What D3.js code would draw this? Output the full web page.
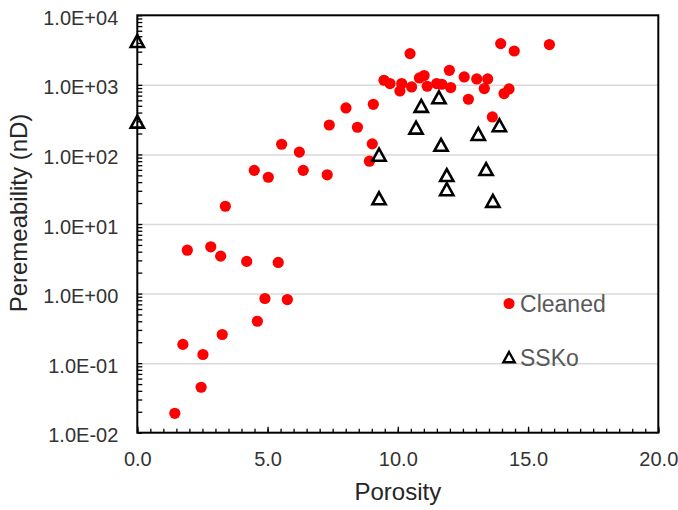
<!DOCTYPE html>
<html>
<head>
<meta charset="utf-8">
<script src="https://cdn.jsdelivr.net/npm/d3@7"></script>
<style>
  html, body { margin: 0; padding: 0; background: #fff; }
  svg { display: block; font-family: "Liberation Sans", Arial, sans-serif; }
</style>
</head>
<body>
<svg id="chart" width="678" height="510"></svg>
<script>
// Cleaned samples: porosity (%) and permeability (nD)
const cleanedPorosity = [1.44, 1.75, 1.92, 2.45, 2.52, 2.82, 3.20, 3.26, 3.38, 4.20,
  4.49, 4.61, 4.90, 5.03, 5.41, 5.54, 5.76, 6.22, 6.37, 7.29,
  7.37, 8.01, 8.45, 8.91, 9.02, 9.06, 9.47, 9.70, 10.08, 10.15,
  10.47, 10.53, 10.83, 11.01, 11.13, 11.49, 11.69, 11.98, 12.03, 12.55,
  12.71, 13.03, 13.32, 13.45, 13.63, 13.95, 14.08, 14.27, 14.47, 15.82];
const cleanedPerm = [0.019, 0.186, 4.2, 0.045, 0.133, 4.7, 3.45, 0.258, 18, 2.9,
  59, 0.40, 0.85, 47, 2.8, 140, 0.82, 108, 59, 51,
  265, 466, 246, 80, 142, 526, 1165, 1044, 818, 1044,
  2815, 933, 1258, 1360, 955, 1044, 1020, 1620, 915, 1300,
  621, 1216, 885, 1216, 346, 3920, 750, 873, 3070, 3795];

// SSKo samples
const sskoPorosity = [0, 0, 9.28, 9.28, 10.70, 10.90, 11.58, 11.66, 11.88, 11.88, 13.09, 13.39, 13.65, 13.90];
const sskoPerm = [4230, 293, 98, 23.2, 240, 493, 656, 136, 50, 31.3, 195, 61, 21.3, 260];

// Series labels and where they sit in data coordinates
const seriesNames = ["Cleaned", "SSKo"];
const labelPorosity = [14.27, 14.27];
const labelPerm = [0.72, 0.121];

// Axis ticks
const xTickValues = [0, 5, 10, 15, 20];
const yDecades = [1e-2, 1e-1, 1e0, 1e1, 1e2, 1e3, 1e4];
const xTitle = "Porosity";
const yTitle = "Peremeability (nD)";

const svg = d3.select("#chart");
const plotLeft = 137.3, plotRight = 658.3, plotTop = 15.3, plotBottom = 432.7;

const x = d3.scaleLinear().domain([0, 20]).range([plotLeft, plotRight]);
const y = d3.scaleLog().domain([1e-2, 1e4]).range([plotBottom, plotTop]);

// horizontal gridlines at each decade inside the plot
svg.append("g")
  .attr("transform", `translate(${plotLeft},0)`)
  .call(d3.axisLeft(y).tickValues(yDecades.slice(1, -1)).tickSize(-(plotRight - plotLeft)).tickFormat(""))
  .call(g => g.select(".domain").remove())
  .call(g => g.selectAll("line").attr("stroke", "#d9d9d9").attr("stroke-width", 1.5));

// minor ticks on the log axis (pointing into the plot)
const minorY = [];
for (let e = -2; e < 4; e++) for (let m = 1; m <= 9; m++) minorY.push(m * Math.pow(10, e));
minorY.push(1e4);
svg.append("g")
  .attr("transform", `translate(${plotLeft},0)`)
  .call(d3.axisRight(y).tickValues(minorY).tickSize(5).tickFormat(""))
  .call(g => g.select(".domain").remove())
  .call(g => g.selectAll("line").attr("stroke", "#000").attr("stroke-width", 1.3));

// y tick labels in scientific form, e.g. 1.0E+04
const sci = v => {
  const e = Math.round(Math.log10(v));
  const s = e < 0 ? "-" : "+";
  return "1.0E" + s + String(Math.abs(e)).padStart(2, "0");
};
svg.append("g")
  .attr("transform", `translate(${plotLeft},0)`)
  .call(d3.axisLeft(y).tickValues(yDecades).tickSize(0).tickPadding(19).tickFormat(sci))
  .call(g => g.select(".domain").remove())
  .call(g => g.selectAll("text")
    .attr("dy", "0.45em")
    .attr("fill", "#333")
    .style("font-size", "20px"));

// x ticks: minor every 0.5, major every 5 (pointing up into the plot)
const minorX = d3.range(0, 20.001, 0.5);
svg.append("g")
  .attr("transform", `translate(0,${plotBottom})`)
  .call(d3.axisTop(x).tickValues(minorX).tickSize(4).tickFormat(""))
  .call(g => g.select(".domain").remove())
  .call(g => g.selectAll("line").attr("stroke", "#000").attr("stroke-width", 1.3));
svg.append("g")
  .attr("transform", `translate(0,${plotBottom})`)
  .call(d3.axisTop(x).tickValues(xTickValues).tickSize(6).tickFormat(""))
  .call(g => g.select(".domain").remove())
  .call(g => g.selectAll("line").attr("stroke", "#000").attr("stroke-width", 1.3));
svg.append("g")
  .attr("transform", `translate(0,${plotBottom})`)
  .call(d3.axisBottom(x).tickValues(xTickValues).tickSize(0).tickPadding(19).tickFormat(d3.format(".1f")))
  .call(g => g.select(".domain").remove())
  .call(g => g.selectAll("text").attr("fill", "#333").style("font-size", "20px"));

// plot frame
svg.append("rect")
  .attr("x", plotLeft).attr("y", plotTop)
  .attr("width", plotRight - plotLeft).attr("height", plotBottom - plotTop)
  .attr("fill", "none").attr("stroke", "#000").attr("stroke-width", 2);

// axis titles
svg.append("text")
  .attr("x", (plotLeft + plotRight) / 2).attr("y", 499.5)
  .attr("text-anchor", "middle")
  .attr("fill", "#262626").style("font-size", "24px")
  .text(xTitle);
svg.append("text")
  .attr("transform", "translate(27,213) rotate(-90)")
  .attr("text-anchor", "middle")
  .attr("fill", "#262626").style("font-size", "24px")
  .text(yTitle);

// triangle marker shape
const tri = s => `M0,${-s}L${s * 1.05},${s * 0.9}L${-s * 1.05},${s * 0.9}Z`;

// Cleaned points
const cleaned = cleanedPorosity.map((p, i) => ({ p, k: cleanedPerm[i] }));
svg.append("g").selectAll("circle").data(cleaned).join("circle")
  .attr("cx", d => x(d.p)).attr("cy", d => y(d.k))
  .attr("r", 5.6).attr("fill", "#ff0000");

// SSKo points
const ssko = sskoPorosity.map((p, i) => ({ p, k: sskoPerm[i] }));
svg.append("g").selectAll("path").data(ssko).join("path")
  .attr("transform", d => `translate(${x(d.p)},${y(d.k)})`)
  .attr("d", tri(6.3))
  .attr("fill", "none").attr("stroke", "#000").attr("stroke-width", 2.6)
  .attr("stroke-linejoin", "miter");

// series labels
const lg = svg.append("g");
lg.append("circle")
  .attr("cx", x(labelPorosity[0])).attr("cy", y(labelPerm[0]))
  .attr("r", 5.5).attr("fill", "#ff0000");
lg.append("path")
  .attr("transform", `translate(${x(labelPorosity[1])},${y(labelPerm[1])})`)
  .attr("d", tri(5.4))
  .attr("fill", "none").attr("stroke", "#000").attr("stroke-width", 2.4);
seriesNames.forEach((name, i) => {
  lg.append("text")
    .attr("x", x(labelPorosity[i]) + 11)
    .attr("y", y(labelPerm[i]) + 8.5)
    .attr("fill", "#595959").style("font-size", "23px")
    .text(name);
});
</script>
</body>
</html>
